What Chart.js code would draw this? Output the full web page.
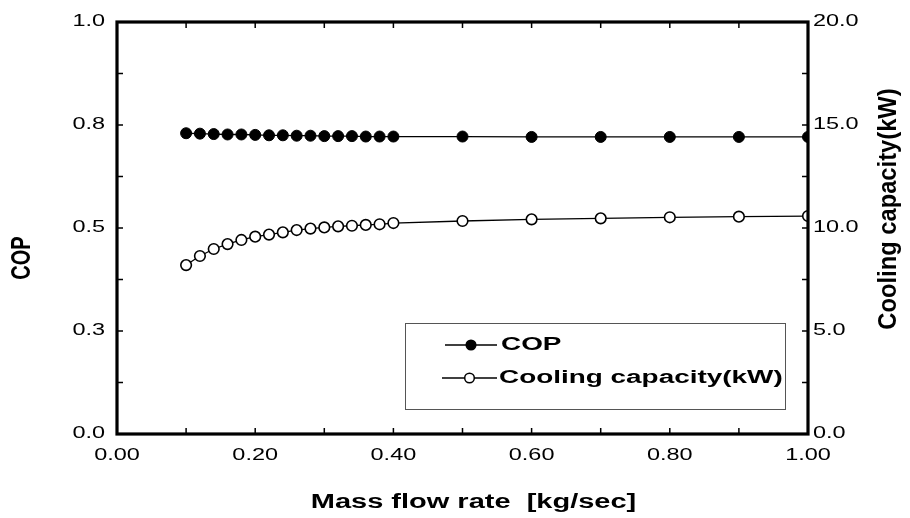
<!DOCTYPE html>
<html>
<head>
<meta charset="utf-8">
<script src="https://cdn.jsdelivr.net/npm/chart.js"></script>
<style>
html,body{margin:0;padding:0;background:#fff;}
#wrap{width:910px;height:518px;position:relative;}
canvas{display:block;}
</style>
</head>
<body>
<div id="wrap"><canvas id="c" width="910" height="518"></canvas></div>
<script>
// ---- data ----
const massFlow = [0.10,0.12,0.14,0.16,0.18,0.20,0.22,0.24,0.26,0.28,0.30,0.32,0.34,0.36,0.38,0.40,0.50,0.60,0.70,0.80,0.90,1.00];
const copValues = [0.730,0.729,0.728,0.727,0.727,0.726,0.725,0.725,0.724,0.724,0.723,0.723,0.723,0.722,0.722,0.722,0.722,0.721,0.721,0.721,0.721,0.721];
const coolingCapacity = [8.20,8.64,8.98,9.22,9.42,9.58,9.68,9.79,9.90,9.97,10.03,10.08,10.11,10.15,10.18,10.24,10.34,10.42,10.47,10.52,10.55,10.58];

const xTickValues = [0,0.2,0.4,0.6,0.8,1.0];
const xTickLabels = ["0.00","0.20","0.40","0.60","0.80","1.00"];
const copTickValues = [0,0.25,0.5,0.75,1.0];
const copTickLabels = ["0.0","0.3","0.5","0.8","1.0"];
const capTickValues = [0,5,10,15,20];
const capTickLabels = ["0.0","5.0","10.0","15.0","20.0"];
const seriesNames = ["COP","Cooling capacity(kW)"];
const xTitle = "Mass flow rate  [kg/sec]";
const yTitle = "COP";
const y1Title = "Cooling capacity(kW)";

const FONT = '"Liberation Sans", Arial, Helvetica, sans-serif';

function stretchText(ctx, txt, x, y, font, sx, sy, rot, align, baseline) {
  ctx.save();
  ctx.translate(x, y);
  if (rot) ctx.rotate(rot);
  ctx.scale(sx, sy);
  ctx.font = font;
  ctx.textAlign = align;
  ctx.textBaseline = baseline;
  ctx.fillStyle = '#000';
  ctx.fillText(txt, 0, 0);
  ctx.restore();
}

const bgPlugin = {
  id: 'bg',
  beforeDraw(chart) {
    const ctx = chart.ctx;
    ctx.save();
    ctx.fillStyle = '#fff';
    ctx.fillRect(0, 0, chart.width, chart.height);
    ctx.restore();
  }
};

const framePlugin = {
  id: 'frame',
  afterDatasetsDraw(chart) {
    const ctx = chart.ctx;
    const a = chart.chartArea;
    const xs = chart.scales.x, ys = chart.scales.y, y1 = chart.scales.y1;
    ctx.save();
    // inward tick marks
    ctx.strokeStyle = '#000';
    ctx.lineWidth = 1.5;
    ctx.beginPath();
    for (let i = 1; i < 10; i++) {
      const px = xs.getPixelForValue(i / 10);
      ctx.moveTo(px, a.bottom); ctx.lineTo(px, a.bottom - 6);
      ctx.moveTo(px, a.top); ctx.lineTo(px, a.top + 6);
    }
    for (let i = 1; i < 8; i++) {
      const py = ys.getPixelForValue(i * 0.125);
      ctx.moveTo(a.left, py); ctx.lineTo(a.left + 6, py);
      const py1 = y1.getPixelForValue(i * 2.5);
      ctx.moveTo(a.right, py1); ctx.lineTo(a.right - 6, py1);
    }
    ctx.stroke();
    // frame
    ctx.lineWidth = 3.2;
    ctx.strokeRect(a.left, a.top, a.right - a.left, a.bottom - a.top);
    ctx.restore();

    const tickFont = '17px ' + FONT;
    const tsx = 1.38;
    xTickValues.forEach((v, i) => {
      stretchText(ctx, xTickLabels[i], xs.getPixelForValue(v), a.bottom + 21, tickFont, tsx, 1, 0, 'center', 'middle');
    });
    copTickValues.forEach((v, i) => {
      stretchText(ctx, copTickLabels[i], a.left - 12, ys.getPixelForValue(v) - 1, tickFont, tsx, 1, 0, 'right', 'middle');
    });
    capTickValues.forEach((v, i) => {
      stretchText(ctx, capTickLabels[i], a.right + 5, y1.getPixelForValue(v) - 1, tickFont, tsx, 1, 0, 'left', 'middle');
    });

    // axis titles
    stretchText(ctx, xTitle, (a.left + a.right) / 2 + 11, 502, 'bold 20px ' + FONT, 1.45, 1, 0, 'center', 'middle');
    stretchText(ctx, yTitle, 23, 258, 'bold 20px ' + FONT, 1.0, 1.35, -Math.PI / 2, 'center', 'middle');
    stretchText(ctx, y1Title, 889, 209, 'bold 21px ' + FONT, 1.13, 1.2, -Math.PI / 2, 'center', 'middle');

    // legend
    ctx.save();
    ctx.strokeStyle = '#555';
    ctx.lineWidth = 1;
    ctx.strokeRect(405.5, 323.5, 380, 86);
    const items = [
      {y: 345, x0: 445, x1: 497, tx: 501},
      {y: 378, x0: 442, x1: 497, tx: 499}
    ];
    chart.data.datasets.forEach((ds, i) => {
      const it = items[i];
      ctx.strokeStyle = '#000';
      ctx.lineWidth = 1.5;
      ctx.beginPath();
      ctx.moveTo(it.x0, it.y); ctx.lineTo(it.x1, it.y);
      ctx.stroke();
      ctx.beginPath();
      ctx.arc((it.x0 + it.x1) / 2, it.y, 4.8, 0, Math.PI * 2);
      ctx.fillStyle = ds.pointBackgroundColor;
      ctx.fill();
      ctx.lineWidth = 1.5;
      ctx.strokeStyle = ds.pointBorderColor;
      ctx.stroke();
      stretchText(ctx, ds.label, it.tx, it.y, 'bold 18px ' + FONT, 1.55, 1, 0, 'left', 'middle');
    });
    ctx.restore();
  }
};

new Chart(document.getElementById('c'), {
  type: 'line',
  data: {
    datasets: [
      {
        label: seriesNames[0],
        data: massFlow.map((x, i) => ({x: x, y: copValues[i]})),
        yAxisID: 'y',
        borderColor: '#000',
        borderWidth: 1.3,
        backgroundColor: '#000',
        pointBackgroundColor: '#000',
        pointBorderColor: '#000',
        pointBorderWidth: 1,
        pointRadius: 5.5,
        tension: 0,
        fill: false
      },
      {
        label: seriesNames[1],
        data: massFlow.map((x, i) => ({x: x, y: coolingCapacity[i]})),
        yAxisID: 'y1',
        borderColor: '#000',
        borderWidth: 1.3,
        backgroundColor: '#fff',
        pointBackgroundColor: '#fff',
        pointBorderColor: '#000',
        pointBorderWidth: 1.6,
        pointRadius: 5.3,
        tension: 0,
        fill: false
      }
    ]
  },
  options: {
    responsive: false,
    animation: false,
    devicePixelRatio: 1,
    layout: {padding: {left: 117, right: 102, top: 22, bottom: 84}},
    plugins: {legend: {display: false}, tooltip: {enabled: false}},
    scales: {
      x: {type: 'linear', min: 0, max: 1, display: false},
      y: {type: 'linear', position: 'left', min: 0, max: 1, display: false},
      y1: {type: 'linear', position: 'right', min: 0, max: 20, display: false}
    }
  },
  plugins: [bgPlugin, framePlugin]
});
</script>
</body>
</html>
